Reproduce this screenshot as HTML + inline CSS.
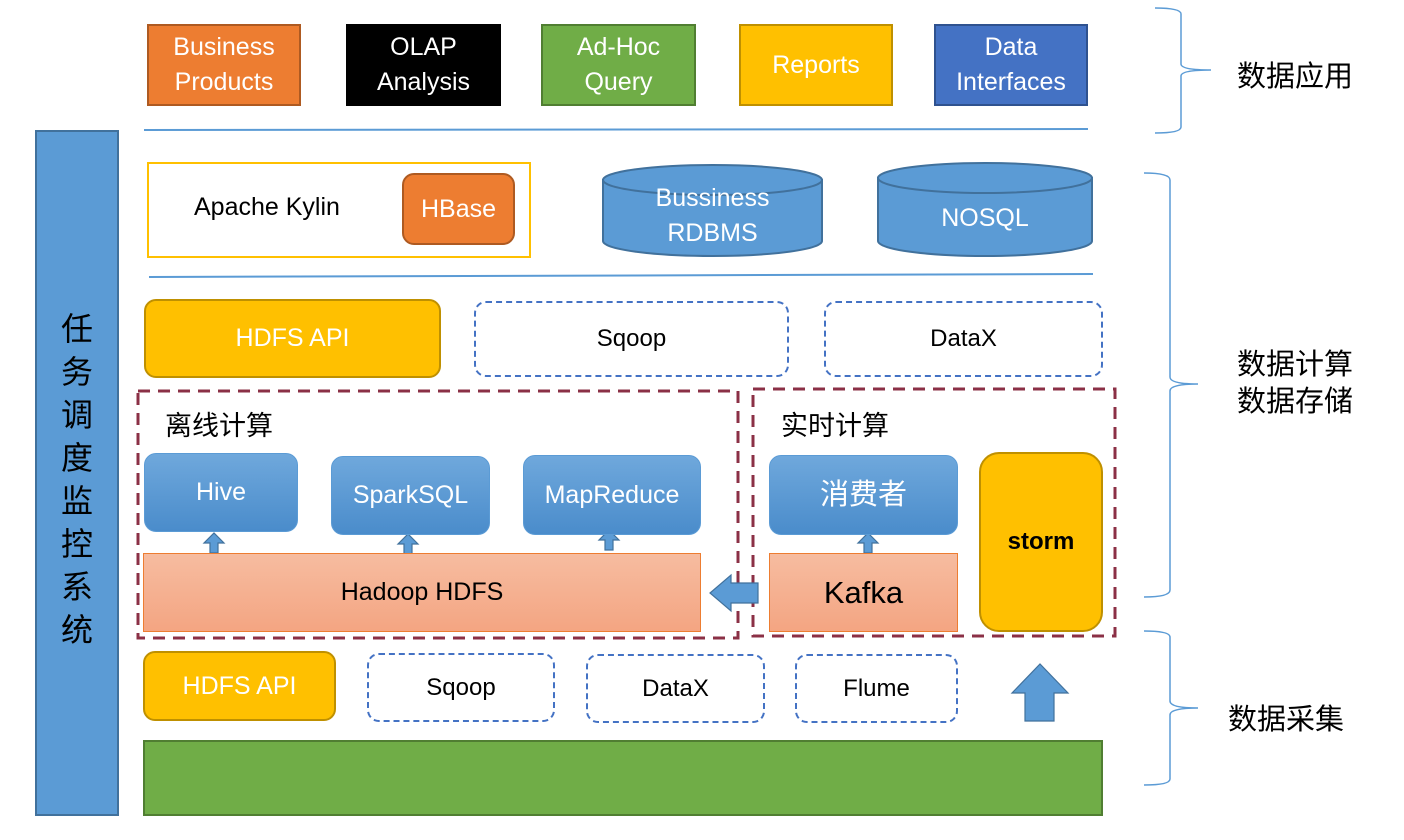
<!DOCTYPE html>
<html><head><meta charset="utf-8"><style>
html,body{margin:0;padding:0;background:#fff;width:1404px;height:840px;overflow:hidden;position:relative;font-family:"Liberation Sans","Noto Sans CJK SC",sans-serif}
.b{position:absolute;box-sizing:border-box;display:flex;align-items:center;justify-content:center;text-align:center;line-height:1.4}
.w{color:#fff;font-size:25px}
.grad{background:linear-gradient(#6fa8dc,#4a8ccb);border:1px solid #5b9bd5;border-radius:12px;color:#fff;font-size:25px}
.hd{background:linear-gradient(#f6bca0,#f4a582);border:1.5px solid #ed7d31;font-size:25px;color:#000}
.dash{border:2px dashed #4472c4;border-radius:12px;font-size:24px;color:#000}
.yel{background:#ffc000;border:2px solid #bf9000;border-radius:12px;color:#fff;font-size:25px}
svg{position:absolute;left:0;top:0}
.t{position:absolute;font-size:27px;color:#000;white-space:nowrap}
</style></head><body>
<svg width="1404" height="840">
<line x1="144" y1="130" x2="1088" y2="129" stroke="#5b9bd5" stroke-width="2"/>
<line x1="149" y1="277" x2="1093" y2="274" stroke="#5b9bd5" stroke-width="2"/>
<g fill="#5b9bd5" stroke="#41719c" stroke-width="2">
<path d="M603,180 L603,241 A109.5,15 0 0 0 822,241 L822,180 Z"/>
<ellipse cx="712.5" cy="180" rx="109.5" ry="15"/>
<path d="M878,178 L878,241 A107,15 0 0 0 1092,241 L1092,178 Z"/>
<ellipse cx="985" cy="178" rx="107" ry="15"/>
</g>
<rect x="138" y="391" width="600" height="247" fill="none" stroke="#8b3046" stroke-width="3" stroke-dasharray="12,8"/>
<rect x="753" y="389" width="362" height="247" fill="none" stroke="#8b3046" stroke-width="3" stroke-dasharray="12,8"/>
<g fill="none" stroke="#5b9bd5" stroke-width="1.5">
<path d="M1155,8 Q1181,8 1181,14 L1181,64 Q1181,70 1211,70 Q1181,70 1181,76 L1181,127 Q1181,133 1155,133"/>
<path d="M1144,173 Q1170,173 1170,180 L1170,377 Q1170,384 1198,384 Q1170,384 1170,391 L1170,590 Q1170,597 1144,597"/>
<path d="M1144,631 Q1170,631 1170,637 L1170,701 Q1170,708 1198,708 Q1170,708 1170,715 L1170,779 Q1170,785 1144,785"/>
</g>
<g fill="#5b9bd5" stroke="#41719c" stroke-width="1.2">
<path d="M210,553 L210,543 L204,543 L214,533 L224,543 L218,543 L218,553 Z"/>
<path d="M404,554 L404,544 L398,544 L408,534 L418,544 L412,544 L412,554 Z"/>
<path d="M605,550 L605,540 L599,540 L609,530 L619,540 L613,540 L613,550 Z"/>
<path d="M864,553 L864,543 L858,543 L868,533 L878,543 L872,543 L872,553 Z"/>
<path d="M758,583 L731,583 L731,575 L710,593 L731,611 L731,603 L758,603 Z"/>
<path d="M1025,721 L1025,693 L1012,693 L1040,664 L1068,693 L1054,693 L1054,721 Z"/>
</g>
</svg>
<div class="b" style="left:35px;top:130px;width:84px;height:686px;background:#5b9bd5;border:2px solid #41719c;font-size:32px;line-height:43px;color:#000;flex-direction:column;padding-top:14px">任<br>务<br>调<br>度<br>监<br>控<br>系<br>统</div>
<div class="b w" style="left:147px;top:24px;width:154px;height:82px;background:#ed7d31;border:2px solid #ae5a21">Business<br>Products</div>
<div class="b w" style="left:346px;top:24px;width:155px;height:82px;background:#000">OLAP<br>Analysis</div>
<div class="b w" style="left:541px;top:24px;width:155px;height:82px;background:#70ad47;border:2px solid #507e32">Ad-Hoc<br>Query</div>
<div class="b w" style="left:739px;top:24px;width:154px;height:82px;background:#ffc000;border:2px solid #bf9000">Reports</div>
<div class="b w" style="left:934px;top:24px;width:154px;height:82px;background:#4472c4;border:2px solid #2f528f">Data<br>Interfaces</div>
<div class="b" style="left:147px;top:162px;width:384px;height:96px;border:2px solid #ffc000"></div>
<div class="t" style="left:194px;top:193px;font-size:25px">Apache Kylin</div>
<div class="b w" style="left:402px;top:173px;width:113px;height:72px;background:#ed7d31;border:2px solid #ae5a21;border-radius:12px">HBase</div>
<div class="b w" style="left:603px;top:183px;width:219px;height:66px">Bussiness<br>RDBMS</div>
<div class="b w" style="left:878px;top:188px;width:214px;height:60px">NOSQL</div>
<div class="b yel" style="left:144px;top:299px;width:297px;height:79px">HDFS API</div>
<div class="b dash" style="left:474px;top:301px;width:315px;height:76px">Sqoop</div>
<div class="b dash" style="left:824px;top:301px;width:279px;height:76px">DataX</div>
<div class="t" style="left:165px;top:404px">离线计算</div>
<div class="t" style="left:781px;top:404px">实时计算</div>
<div class="b grad" style="left:144px;top:453px;width:154px;height:79px">Hive</div>
<div class="b grad" style="left:331px;top:456px;width:159px;height:79px">SparkSQL</div>
<div class="b grad" style="left:523px;top:455px;width:178px;height:80px">MapReduce</div>
<div class="b hd" style="left:143px;top:553px;width:558px;height:79px">Hadoop HDFS</div>
<div class="b grad" style="left:769px;top:455px;width:189px;height:80px;font-size:29px">消费者</div>
<div class="b hd" style="left:769px;top:553px;width:189px;height:79px;font-size:31px">Kafka</div>
<div class="b" style="left:979px;top:452px;width:124px;height:180px;background:#ffc000;border:2px solid #bf9000;border-radius:20px;font-size:24px;font-weight:bold;color:#000">storm</div>
<div class="b yel" style="left:143px;top:651px;width:193px;height:70px">HDFS API</div>
<div class="b dash" style="left:367px;top:653px;width:188px;height:69px">Sqoop</div>
<div class="b dash" style="left:586px;top:654px;width:179px;height:69px">DataX</div>
<div class="b dash" style="left:795px;top:654px;width:163px;height:69px">Flume</div>
<div class="b" style="left:143px;top:740px;width:960px;height:76px;background:#70ad47;border:2px solid #507e32"></div>
<div class="t" style="left:1237px;top:53px;font-size:29px">数据应用</div>
<div class="t" style="left:1237px;top:347px;line-height:37px;font-size:29px">数据计算<br>数据存储</div>
<div class="t" style="left:1228px;top:696px;font-size:29px">数据采集</div>
</body></html>
